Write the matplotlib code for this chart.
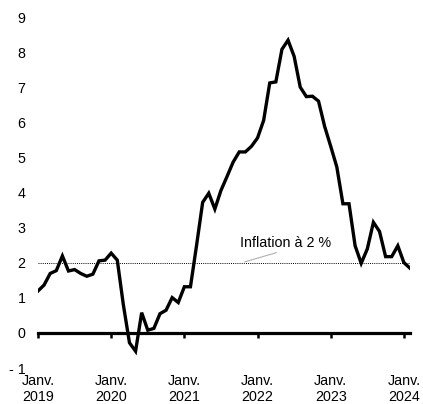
import matplotlib
matplotlib.use("Agg")
import matplotlib.pyplot as plt

plt.rcParams['font.family'] = ['Liberation Sans', 'DejaVu Sans']

# Monthly values, Jan 2019 .. Feb 2024
months = [f"{y}-{m:02d}" for y in range(2019, 2025) for m in range(1, 13)][:62]
values = [
    1.20, 1.37, 1.70, 1.78, 2.20, 1.77, 1.81, 1.70, 1.62, 1.68, 2.06, 2.08,   # 2019
    2.28, 2.08, 0.80, -0.28, -0.52, 0.58, 0.08, 0.13, 0.55, 0.65, 1.01, 0.87,  # 2020
    1.32, 1.32, 2.50, 3.73, 3.99, 3.54, 4.07, 4.47, 4.88, 5.17, 5.17, 5.33,   # 2021
    5.57, 6.07, 7.14, 7.17, 8.10, 8.36, 7.90, 7.02, 6.75, 6.76, 6.62, 5.90,   # 2022
    5.33, 4.74, 3.69, 3.69, 2.49, 1.99, 2.40, 3.16, 2.90, 2.18, 2.18, 2.49,   # 2023
    2.01, 1.85,                                                               # 2024
]
year_labels = ["Janv.\n2019", "Janv.\n2020", "Janv.\n2021", "Janv.\n2022", "Janv.\n2023", "Janv.\n2024"]
y_ticks = [-1, 0, 1, 2, 3, 4, 5, 6, 7, 8, 9]
y_labels = ["- 1", "0", "1", "2", "3", "4", "5", "6", "7", "8", "9"]
target = 2.0
annot_text = "Inflation à 2 %"

fig = plt.figure(figsize=(4.23, 4.04), dpi=100)
ax = fig.add_axes([38/423, 1 - 368/404, (410 - 38)/423, (368 - 17.8)/404])

x = list(range(len(values)))
ax.plot(x, values, color='black', lw=2.4, solid_joinstyle='miter', zorder=4)
ax.axhline(target, color='black', lw=0.7, ls=(0, (1, 1.2)), zorder=2)

ax.set_xlim(0, len(values) - 1)
ax.set_ylim(-1, 9)

# zero axis with year ticks
for s in ['top', 'right', 'left']:
    ax.spines[s].set_visible(False)
ax.spines['bottom'].set_position(('data', 0))
ax.spines['bottom'].set_linewidth(2.3)
ax.spines['bottom'].set_zorder(3)
year_pos = list(range(0, len(values), 12))
ax.set_xticks(year_pos)
ax.tick_params(axis='x', direction='out', length=3.5, width=1.8, labelbottom=False)

sec = ax.secondary_xaxis('bottom')
sec.set_xticks(year_pos, year_labels)
sec.tick_params(length=0, pad=4.5, labelsize=10.3)
sec.spines['bottom'].set_visible(False)

ax.set_yticks(y_ticks, y_labels)
ax.tick_params(axis='y', length=0, pad=9, labelsize=10.3)

ax.annotate(annot_text, xy=(33.9, 2.03), xytext=(33.2, 2.46),
            fontsize=10.3, va='baseline', ha='left',
            arrowprops=dict(arrowstyle='-', color='#b0b0b0', lw=0.8,
                            shrinkA=0, shrinkB=0,
                            relpos=(0.5, 0)), zorder=5)

fig.savefig("out.png", dpi=100)
